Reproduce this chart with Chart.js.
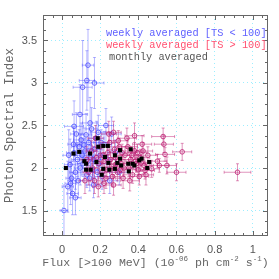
<!DOCTYPE html>
<html><head><meta charset="utf-8">
<script src="https://cdn.jsdelivr.net/npm/chart.js@4/dist/chart.umd.min.js"></script>
<style>html,body{margin:0;padding:0;background:#fff}#c{display:block}</style>
</head><body>
<canvas id="c" width="279" height="279"></canvas>
<script>
// ---- data ----
const xTickValues = [0, 0.2, 0.4, 0.6, 0.8, 1];
const yTickValues = [1.5, 2, 2.5, 3, 3.5];
const seriesNames = ["weekly averaged [TS < 100]", "weekly averaged [TS > 100]", "monthly averaged"];

// weekly averaged, TS < 100 (blue)
const blueX = [0.136,0.13,0.17,0.108,0.094,0.147,0.155,0.063,0.23,0.126,0.19,0.063,0.042,0.01,0.03,0.045,0.05,0.07,0.08,0.09,0.10,0.11,0.12,0.13,0.14,0.15,0.16,0.17,0.18,0.19,0.20,0.21,0.22,0.24,0.25,0.26,0.28,0.30,0.06,0.075,0.085,0.095,0.105,0.115,0.135,0.145,0.165,0.185,0.205,0.035,0.055,0.165,0.07];
const blueY = [3.21,3.03,3.00,2.95,2.63,2.53,2.46,2.49,2.50,2.39,2.42,2.18,2.04,1.50,1.78,1.82,1.88,1.95,2.10,2.25,2.33,2.05,2.20,1.92,2.30,2.12,1.98,2.22,2.35,2.05,2.15,1.90,2.28,2.10,1.85,2.40,2.18,1.95,2.28,2.40,1.85,2.00,2.15,2.27,2.08,1.88,2.10,1.95,2.30,2.15,1.70,1.80,1.65];
const blueXErr = [0.03,0.04,0.05,0.05,0.04,0.04,0.03,0.05,0.04,0.03,0.04,0.04,0.03,0.02,0.03,0.03,0.03,0.03,0.03,0.04,0.04,0.03,0.04,0.03,0.04,0.04,0.03,0.04,0.04,0.04,0.04,0.04,0.04,0.04,0.04,0.05,0.04,0.05,0.03,0.03,0.03,0.03,0.04,0.04,0.03,0.03,0.04,0.04,0.04,0.03,0.03,0.04,0.03];
const blueYErr = [0.42,0.35,0.30,0.55,0.35,0.30,0.25,0.30,0.20,0.25,0.20,0.25,0.30,0.30,0.30,0.25,0.20,0.20,0.20,0.20,0.20,0.15,0.15,0.15,0.20,0.15,0.15,0.15,0.20,0.15,0.15,0.15,0.15,0.15,0.15,0.20,0.15,0.15,0.20,0.25,0.20,0.20,0.20,0.20,0.15,0.15,0.15,0.15,0.15,0.30,0.25,0.15,0.20];

// weekly averaged, TS > 100 (magenta)
const redX = [0.53,0.534,0.63,0.54,0.60,0.92,0.55,0.50,0.47,0.51,0.45,0.44,0.16,0.17,0.18,0.19,0.20,0.21,0.22,0.23,0.24,0.25,0.26,0.27,0.28,0.29,0.30,0.31,0.32,0.33,0.34,0.35,0.36,0.37,0.38,0.39,0.40,0.41,0.42,0.43,0.155,0.175,0.195,0.215,0.235,0.245,0.255,0.265,0.275,0.285,0.295,0.305,0.315,0.325,0.345,0.355,0.365,0.385,0.395,0.405,0.415,0.425,0.435,0.22,0.14,0.13,0.12,0.38,0.27];
const redY = [2.37,2.28,2.19,2.16,1.95,1.95,2.03,2.08,1.99,2.03,2.15,1.92,2.00,1.85,2.12,1.78,2.25,1.95,2.08,1.88,2.18,2.30,2.02,1.80,2.12,1.95,2.25,2.05,1.88,2.15,2.35,2.00,2.10,1.92,2.20,2.05,1.98,2.12,2.28,2.03,2.20,2.35,2.05,2.15,1.98,2.40,2.10,1.90,2.22,2.05,2.32,1.98,2.18,2.00,2.25,1.85,2.15,2.08,2.18,1.90,2.06,2.20,1.97,1.82,1.95,2.10,1.85,2.38,2.42];
const redXErr = [0.06,0.05,0.05,0.05,0.05,0.07,0.05,0.05,0.04,0.05,0.05,0.04,0.03,0.03,0.04,0.03,0.04,0.04,0.04,0.04,0.04,0.04,0.04,0.04,0.04,0.04,0.05,0.04,0.04,0.05,0.05,0.05,0.05,0.05,0.05,0.05,0.05,0.05,0.05,0.05,0.03,0.04,0.04,0.04,0.04,0.04,0.04,0.04,0.04,0.04,0.05,0.04,0.05,0.05,0.05,0.05,0.05,0.05,0.05,0.05,0.05,0.05,0.05,0.04,0.03,0.03,0.03,0.05,0.04];
const redYErr = [0.10,0.10,0.10,0.08,0.10,0.10,0.10,0.08,0.10,0.08,0.10,0.12,0.12,0.15,0.12,0.12,0.12,0.12,0.10,0.12,0.10,0.12,0.10,0.12,0.10,0.10,0.10,0.10,0.12,0.10,0.12,0.10,0.10,0.10,0.10,0.10,0.10,0.10,0.10,0.10,0.12,0.15,0.12,0.10,0.10,0.15,0.10,0.12,0.10,0.10,0.12,0.10,0.10,0.10,0.10,0.12,0.10,0.10,0.10,0.10,0.10,0.10,0.10,0.12,0.15,0.15,0.15,0.15,0.13];

// monthly averaged (black)
const monthX = [0.02,0.06,0.09,0.117,0.126,0.126,0.15,0.147,0.18,0.187,0.19,0.208,0.216,0.216,0.225,0.24,0.243,0.248,0.277,0.277,0.29,0.304,0.304,0.31,0.347,0.35,0.36,0.37,0.379,0.405,0.417,0.447,0.457];
const monthY = [2.00,2.17,2.19,2.08,2.05,1.98,1.98,2.17,2.07,2.35,2.25,1.92,1.99,2.26,2.13,2.26,2.06,1.98,2.15,1.99,2.06,2.21,2.11,2.03,2.05,1.96,2.22,2.05,2.03,2.09,2.11,2.00,2.07];

// ---- build ----
const pts = (xs, ys) => xs.map((v, i) => ({x: v, y: ys[i]}));
const BLUE = 'rgba(60,60,255,0.75)', BLUE_BAR = 'rgba(70,70,255,0.4)';
const MAG = 'rgba(185,25,110,0.8)', MAG_BAR = 'rgba(195,45,125,0.5)';
const errInfo = {1: {xe: redXErr, ye: redYErr, color: MAG_BAR}, 2: {xe: blueXErr, ye: blueYErr, color: BLUE_BAR}};

const errPlugin = {
  id: 'errbars',
  beforeDatasetDraw(chart, args) {
    const e = errInfo[args.index]; if (!e) return;
    const {ctx, chartArea: a, scales: {x, y}} = chart;
    const data = chart.data.datasets[args.index].data;
    ctx.save();
    ctx.beginPath(); ctx.rect(a.left, a.top, a.right - a.left, a.bottom - a.top); ctx.clip();
    ctx.strokeStyle = e.color; ctx.lineWidth = 1;
    const cap = 1.5;
    data.forEach((p, k) => {
      const px = x.getPixelForValue(p.x), py = y.getPixelForValue(p.y);
      const x0 = x.getPixelForValue(p.x - e.xe[k]), x1 = x.getPixelForValue(p.x + e.xe[k]);
      const y0 = y.getPixelForValue(p.y - e.ye[k]), y1 = y.getPixelForValue(p.y + e.ye[k]);
      ctx.beginPath();
      ctx.moveTo(x0, py); ctx.lineTo(x1, py);
      ctx.moveTo(x0, py - cap); ctx.lineTo(x0, py + cap);
      ctx.moveTo(x1, py - cap); ctx.lineTo(x1, py + cap);
      ctx.moveTo(px, y0); ctx.lineTo(px, y1);
      ctx.moveTo(px - cap, y0); ctx.lineTo(px + cap, y0);
      ctx.moveTo(px - cap, y1); ctx.lineTo(px + cap, y1);
      ctx.stroke();
    });
    ctx.restore();
  }
};

const MONO = '"Liberation Mono", "DejaVu Sans Mono", monospace';
const framePlugin = {
  id: 'frame',
  afterDraw(chart) {
    const {ctx, chartArea: a, scales: {x, y}} = chart;
    ctx.save();
    ctx.strokeStyle = '#666'; ctx.lineWidth = 1;
    ctx.strokeRect(a.left + 0.5, a.top + 0.5, a.right - a.left - 1, a.bottom - a.top - 1);
    ctx.beginPath();
    for (let i = -2; i <= 22; i++) {
      const v = i * 0.05; if (v < x.min - 1e-9 || v > x.max + 1e-9) continue;
      const px = Math.round(x.getPixelForValue(v)) + 0.5;
      const len = (i % 4 === 0) ? 5 : 3;
      ctx.moveTo(px, a.bottom); ctx.lineTo(px, a.bottom - len);
      ctx.moveTo(px, a.top); ctx.lineTo(px, a.top + len);
    }
    for (let i = 8; i <= 32; i++) {
      const v = i * 0.125; if (v < y.min - 1e-9 || v > y.max + 1e-9) continue;
      const py = Math.round(y.getPixelForValue(v)) + 0.5;
      const len = (i % 4 === 0) ? 5 : 3;
      ctx.moveTo(a.left, py); ctx.lineTo(a.left + len, py);
      ctx.moveTo(a.right, py); ctx.lineTo(a.right - len, py);
    }
    ctx.stroke();

    // legend
    ctx.font = '10.3px ' + MONO; ctx.textBaseline = 'middle'; ctx.textAlign = 'left';
    ctx.fillStyle = '#6060ff'; ctx.fillText(seriesNames[0], 106, 33);
    ctx.fillStyle = '#ff5070'; ctx.fillText(seriesNames[1], 106, 45);
    ctx.fillStyle = '#555'; ctx.fillText(seriesNames[2], 109, 57);

    // y title
    ctx.fillStyle = '#666';
    ctx.save();
    ctx.translate(10, (a.top + a.bottom) / 2); ctx.rotate(-Math.PI / 2);
    ctx.font = '12.3px ' + MONO; ctx.textAlign = 'center';
    ctx.fillText('Photon Spectral Index', 0, 0);
    ctx.restore();

    // x title with superscripts
    const parts = [['Flux [>100 MeV] (10', 0], ['-06', 1], [' ph cm', 0], ['-2', 1], [' s', 0], ['-1', 1], [')', 0]];
    const big = '11.6px ' + MONO, small = '7.5px ' + MONO;
    let w = 0;
    parts.forEach(([t, s]) => { ctx.font = s ? small : big; w += ctx.measureText(t).width; });
    let cx = (a.left + a.right) / 2 - w / 2;
    const by = 266;
    ctx.textAlign = 'left'; ctx.textBaseline = 'alphabetic';
    parts.forEach(([t, s]) => {
      ctx.font = s ? small : big;
      ctx.fillText(t, cx, s ? by - 5 : by);
      cx += ctx.measureText(t).width;
    });
    ctx.restore();
  }
};

const fmt = v => String(+(+v).toFixed(2));
new Chart(document.getElementById('c'), {
  type: 'scatter',
  data: {
    datasets: [
      {label: seriesNames[2], data: pts(monthX, monthY), pointStyle: 'rect', pointRadius: 2.9, backgroundColor: '#000', borderColor: '#000', borderWidth: 0},
      {label: seriesNames[1], data: pts(redX, redY), pointStyle: 'circle', pointRadius: 2.3, backgroundColor: 'rgba(0,0,0,0)', borderColor: MAG, borderWidth: 1},
      {label: seriesNames[0], data: pts(blueX, blueY), pointStyle: 'circle', pointRadius: 2.3, backgroundColor: 'rgba(0,0,0,0)', borderColor: BLUE, borderWidth: 1}
    ]
  },
  options: {
    responsive: false, animation: false, devicePixelRatio: 1,
    layout: {padding: {top: 15, right: 11, left: 0, bottom: 0}},
    plugins: {legend: {display: false}, tooltip: {enabled: false}},
    scales: {
      x: {
        type: 'linear', min: -0.1, max: 1.08,
        afterFit: s => { s.height = 43; },
        afterBuildTicks: s => { s.ticks = xTickValues.map(v => ({value: v})); },
        ticks: {callback: fmt, padding: 7, color: '#555', font: {family: '"Liberation Sans", Arial, sans-serif', size: 11}, maxRotation: 0, autoSkip: false},
        grid: {color: 'rgba(140,235,255,0.85)', drawTicks: false, lineWidth: 1},
        border: {display: false, dash: [1, 3]}
      },
      y: {
        type: 'linear', min: 1.2, max: 3.8,
        afterFit: s => { s.width = 43; },
        afterBuildTicks: s => { s.ticks = yTickValues.map(v => ({value: v})); },
        ticks: {callback: fmt, padding: 6, color: '#555', font: {family: '"Liberation Sans", Arial, sans-serif', size: 11}, autoSkip: false},
        grid: {color: 'rgba(140,235,255,0.85)', drawTicks: false, lineWidth: 1},
        border: {display: false, dash: [1, 3]}
      }
    }
  },
  plugins: [errPlugin, framePlugin]
});
</script>
</body></html>
